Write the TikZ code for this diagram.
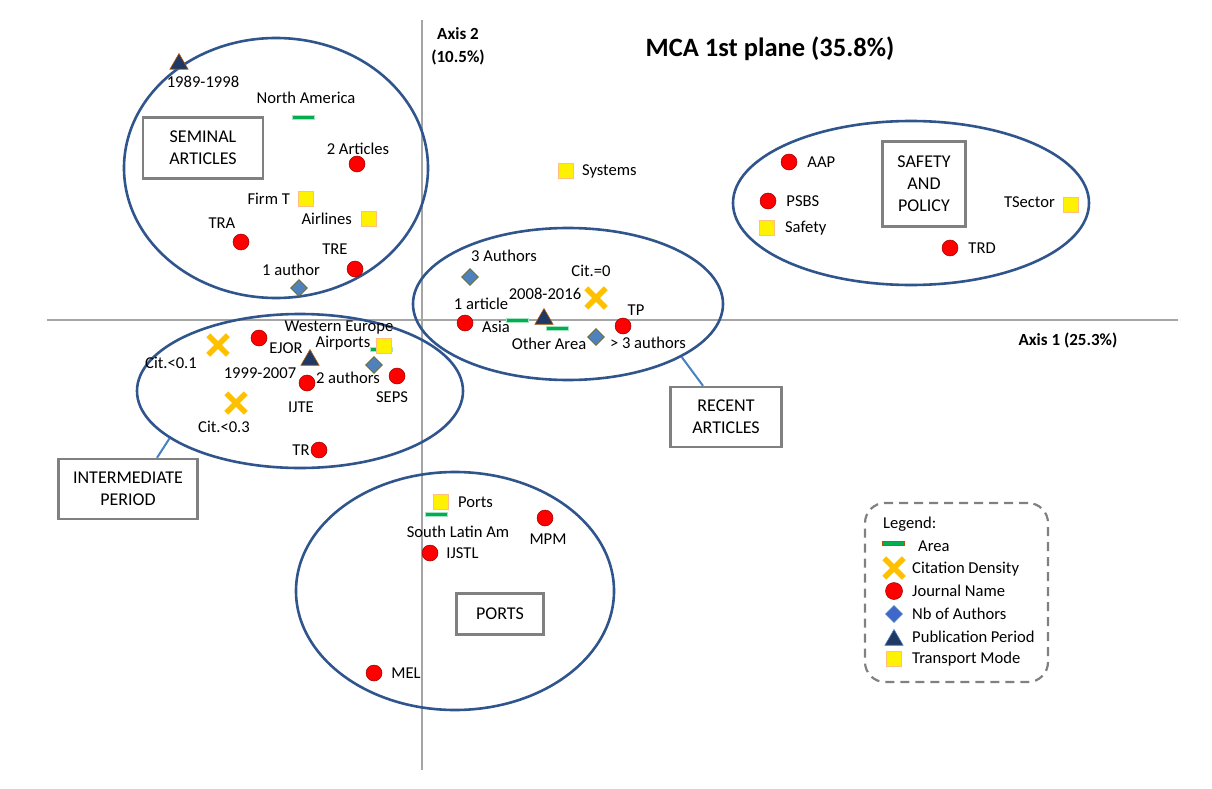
\documentclass[tikz,border=0pt]{standalone}
\usepackage{fontspec}
\setmainfont{Carlito}
\usetikzlibrary{positioning}
\usetikzlibrary{shapes.geometric}
\usetikzlibrary{shapes.misc}
\definecolor{ellblue}{RGB}{47,85,140}
\definecolor{linkblue}{RGB}{70,130,195}
\definecolor{boxgray}{RGB}{128,128,128}
\definecolor{axisgray}{RGB}{165,165,165}
\definecolor{citorange}{RGB}{255,192,0}
\definecolor{areagreen}{RGB}{0,176,80}
\definecolor{authblue}{RGB}{79,129,189}
\definecolor{navy}{RGB}{31,56,100}
\tikzset{lbl/.style={inner sep=1pt, font=\fontsize{16.6}{19}\selectfont}}
\tikzset{axlbl/.style={inner sep=1pt, align=center, font=\fontsize{17}{23}\selectfont\bfseries}}
\tikzset{axis/.style={draw=axisgray, line width=1.3pt}}
\tikzset{clus/.style={draw=ellblue, line width=2.6pt, ellipse, inner sep=0pt}}
\tikzset{grp/.style={draw=boxgray, line width=2.4pt, fill=white, align=center, inner sep=0pt, font=\fontsize{18}{22}\selectfont}}
\tikzset{link/.style={draw=linkblue, line width=2pt}}
\tikzset{jrn/.style={circle, fill=red, draw=red!60!black, line width=0.5pt, minimum size=16pt, inner sep=0pt}}
\tikzset{mode/.style={rectangle, fill=yellow, draw=orange!50, line width=0.8pt, minimum size=15pt, inner sep=0pt}}
\tikzset{auth/.style={diamond, fill=authblue, draw=olive!70!black, line width=0.6pt, minimum size=17pt, inner sep=0pt}}
\tikzset{period/.style={regular polygon, regular polygon sides=3, fill=navy, draw=orange!70!black, line width=0.6pt, minimum size=21pt, inner sep=0pt}}
\tikzset{cit/.style={cross out, draw=citorange, line width=5.5pt, minimum size=14pt, inner sep=0pt}}
\tikzset{area/.style={rectangle, fill=areagreen, draw=areagreen!35, line width=0.8pt, minimum width=22pt, minimum height=4pt, inner sep=0pt}}
\tikzset{legbox/.style={draw=boxgray, dashed, dash pattern=on 9pt off 6pt, line width=2.2pt, rounded corners=20pt}}

\begin{document}
\begin{tikzpicture}[x=1pt, y=-1pt]
\useasboundingbox (0,0) rectangle (1212,789);

% axes
\coordinate (xl) at (47,320);
\coordinate (xr) at (1178,320);
\coordinate (yt) at (422,20);
\coordinate (yb) at (422,770);
\draw[axis] (xl) -- (xr);
\draw[axis] (yt) -- (yb);
\node (ax1) [axlbl] at (1068,340) {Axis 1 (25.3\%)};
\node (ax2) [axlbl] at (458,46) {Axis 2\\(10.5\%)};
\node (title) [font=\fontsize{26.5}{30}\selectfont\bfseries] at (770,49) {MCA 1st plane (35.8\%)};

% clusters
\node (seminal) [clus, minimum width=304, minimum height=260] at (276,168) {};
\node (interm) [clus, minimum width=326, minimum height=154] at (300,391) {};
\node (recent) [clus, minimum width=310, minimum height=152] at (568,304) {};
\node (safety) [clus, minimum width=356, minimum height=164] at (911,203) {};
\node (ports) [clus, minimum width=318, minimum height=238] at (455,591) {};

\node (semtxt) [grp, minimum width=120, minimum height=61] at (203,148) {SEMINAL\\ARTICLES};
\node (inttxt) [grp, minimum width=139, minimum height=60] at (128,489) {INTERMEDIATE\\PERIOD};
\node (rectxt) [grp, minimum width=111, minimum height=60] at (726,417) {RECENT\\ARTICLES};
\node (saftxt) [grp, minimum width=83, minimum height=85] at (924,184) {SAFETY\\AND\\POLICY};
\node (porttxt) [grp, minimum width=87, minimum height=41] at (500,614) {PORTS};

\draw[link] (interm.200) -- ([xshift=29pt]inttxt.north);
\draw[link] (recent.335) -- ([xshift=-23pt]rectxt.north);

% seminal articles
\node (p8998) [period] at (179,64) {};
\node (p8998l) [lbl] at (203,82) {1989-1998};
\node (namer) [area] at (303,117) {};
\node (namerl) [lbl] at (306,98) {North America};
\node (art2) [jrn] at (357,164) {};
\node (art2l) [lbl] at (358,149) {2 Articles};
\node (firmt) [mode] at (306,199) {};
\node (firmtl) [lbl, left=7pt of firmt] {Firm T};
\node (airl) [mode] at (369,219) {};
\node (airll) [lbl, left=8pt of airl] {Airlines};
\node (tra) [jrn] at (241,242) {};
\node (tral) [lbl] at (222,223) {TRA};
\node (tre) [jrn] at (355,269) {};
\node (trel) [lbl] at (335,249) {TRE};
\node (auth1) [auth] at (299,288) {};
\node (auth1l) [lbl] at (291,270) {1 author};

% intermediate period
\node (cit01) [cit] at (218,345) {};
\node (cit01l) [lbl] at (171,363) {Cit.<0.1};
\node (ejor) [jrn] at (259,338) {};
\node (ejorl) [lbl] at (286,348) {EJOR};
\node (p9907) [period] at (310,360) {};
\node (p9907l) [lbl] at (260,373) {1999-2007};
\node (weur) [area] at (381,349) {};
\node (airp) [mode] at (384,346) {};
\node (weurl) [lbl] at (339,328) {Western Europe};
\node (airpl) [lbl] at (343,343) {Airports};
\node (auth2) [auth] at (374,365) {};
\node (auth2l) [lbl] at (348,378) {2 authors};
\node (seps) [jrn] at (397,376) {};
\node (sepsl) [lbl] at (392,397) {SEPS};
\node (ijte) [jrn] at (307,383) {};
\node (ijtel) [lbl] at (301,407) {IJTE};
\node (cit03) [cit] at (236,403) {};
\node (cit03l) [lbl] at (224,427) {Cit.<0.3};
\node (tr) [jrn] at (319,450) {};
\node (trl) [lbl, left=0pt of tr] {TR};

% recent articles
\node (auth3) [auth] at (470,277) {};
\node (auth3l) [lbl] at (504,256) {3 Authors};
\node (cit0) [cit] at (596,298) {};
\node (cit0l) [lbl] at (591,271) {Cit.=0};
\node (p0816) [period] at (544,319) {};
\node (p0816l) [lbl] at (545,294) {2008-2016};
\node (art1) [jrn] at (465,323) {};
\node (art1l) [lbl] at (481,304) {1 article};
\node (asia) [area] at (517,320) {};
\node (asial) [lbl] at (496,327) {Asia};
\node (oarea) [area] at (557,328) {};
\node (oareal) [lbl] at (549,344) {Other Area};
\node (auth4) [auth] at (596,337) {};
\node (auth4l) [lbl] at (648,343) {> 3 authors};
\node (tp) [jrn] at (623,326) {};
\node (tpl) [lbl] at (636,310) {TP};

\node (syst) [mode] at (566,171) {};
\node (systl) [lbl, right=7pt of syst] {Systems};

% safety and policy
\node (aap) [jrn] at (789,162) {};
\node (aapl) [lbl, right=9pt of aap] {AAP};
\node (psbs) [jrn] at (768,201) {};
\node (psbsl) [lbl, right=9pt of psbs] {PSBS};
\node (safe) [mode] at (767,228) {};
\node (safel) [lbl, right=9pt of safe] {Safety};
\node (tsec) [mode] at (1071,205) {};
\node (tsecl) [lbl, left=7pt of tsec, yshift=3pt] {TSector};
\node (trd) [jrn] at (950,248) {};
\node (trdl) [lbl, right=9pt of trd] {TRD};

% ports
\node (portm) [mode] at (441,502) {};
\node (portml) [lbl, right=8pt of portm] {Ports};
\node (slat) [area] at (436,514) {};
\node (slatl) [lbl] at (458,532) {South Latin Am};
\node (ijstl) [jrn] at (430,553) {};
\node (ijstll) [lbl, right=7pt of ijstl] {IJSTL};
\node (mpm) [jrn] at (545,518) {};
\node (mpml) [lbl] at (548,539) {MPM};
\node (mel) [jrn] at (374,673) {};
\node (mell) [lbl, right=8pt of mel] {MEL};

% legend
\node (legend) [legbox, minimum width=183, minimum height=179] at (956.5,592.5) {};
\node (legt) [lbl, anchor=west] at (882,524) {Legend:};
\node (lgarea) [area, draw=orange!70!black] at (893,543) {};
\node (lgareal) [lbl, anchor=west] at (917,546) {Area};
\node (lgcit) [cit] at (894,568) {};
\node (lgcitl) [lbl, anchor=west] at (911,569) {Citation Density};
\node (lgjrn) [jrn, minimum size=17pt] at (894,591) {};
\node (lgjrnl) [lbl, anchor=west] at (911,591) {Journal Name};
\node (lgauth) [auth, fill=authblue!80!blue, draw=authblue] at (894,614) {};
\node (lgauthl) [lbl, anchor=west] at (911,614) {Nb of Authors};
\node (lgper) [period, draw=authblue] at (894,640) {};
\node (lgperl) [lbl, anchor=west] at (911,637) {Publication Period};
\node (lgmode) [mode] at (894,659) {};
\node (lgmodel) [lbl, anchor=west] at (911,659) {Transport Mode};
\end{tikzpicture}
\end{document}
